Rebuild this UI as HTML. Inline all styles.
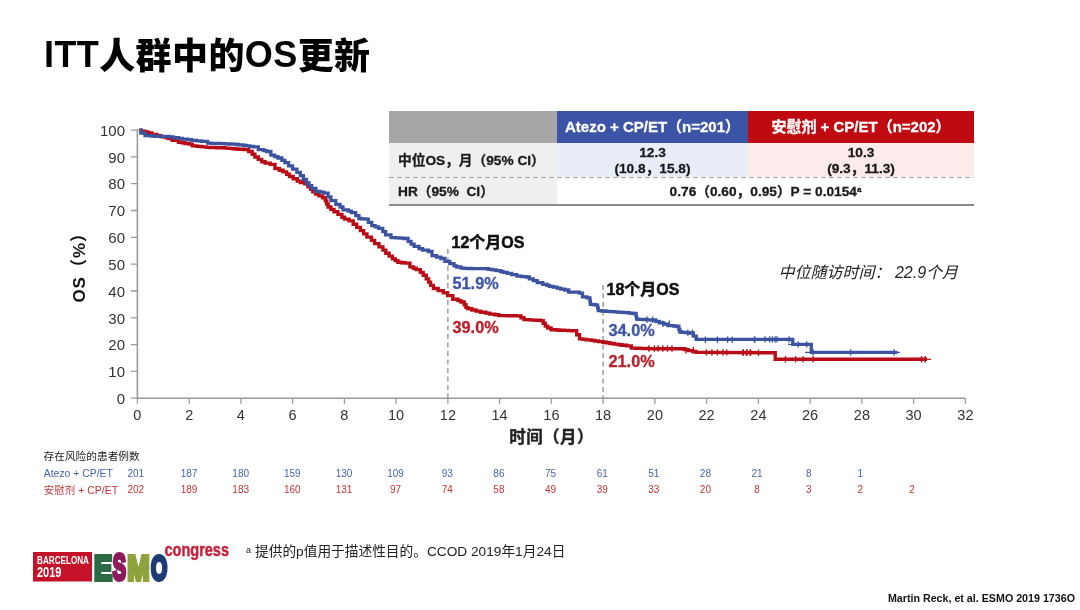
<!DOCTYPE html>
<html lang="zh">
<head>
<meta charset="utf-8">
<title>ITT人群中的OS更新</title>
<style>
html,body{margin:0;padding:0;background:#fff;}
body{width:1080px;height:610px;position:relative;overflow:hidden;font-family:"Liberation Sans","Noto Sans CJK SC",sans-serif;color:#111;}
.abs{position:absolute;white-space:nowrap;}
#title{left:44px;top:33px;font-size:36px;font-weight:bold;line-height:44px;color:#000;letter-spacing:0.4px;}
#title .k{font-weight:900;position:relative;top:1.7px;}
#chart{position:absolute;left:0;top:0;}
#tbl{position:absolute;left:389px;top:111px;width:585px;height:95px;font-weight:bold;font-size:13.7px;color:#1a1a1a;}
#tbl div{position:absolute;box-sizing:border-box;-webkit-text-stroke:0.3px currentColor;}
.hd{color:#fff;font-size:15px;text-align:center;line-height:32px;height:32px;top:0;}
.c{text-align:center;}
#foot{left:246px;top:543px;font-size:13.7px;line-height:18px;color:#222;}
#foot sup{font-size:9px;vertical-align:3px;margin-right:4px;line-height:0;}
#cite{right:5px;top:591.3px;font-size:10.7px;font-weight:bold;line-height:14px;color:#111;}
</style>
</head>
<body>
<div id="title" class="abs">ITT<span class="k">人群中的</span>OS<span class="k">更新</span></div>

<svg id="chart" width="1080" height="610" viewBox="0 0 1080 610" font-family="'Liberation Sans','Noto Sans CJK SC',sans-serif">
  <!-- axes -->
  <path d="M137.4 129.1V398.2H965.4" fill="none" stroke="#9a9a9a" stroke-width="1.6"/>
  <path d="M130.9 398.2H137.4M130.9 371.4H137.4M130.9 344.6H137.4M130.9 317.8H137.4M130.9 291.0H137.4M130.9 264.1H137.4M130.9 237.3H137.4M130.9 210.5H137.4M130.9 183.7H137.4M130.9 156.9H137.4M130.9 130.1H137.4M137.4 398.2V403.7M189.2 398.2V403.7M240.9 398.2V403.7M292.6 398.2V403.7M344.4 398.2V403.7M396.1 398.2V403.7M447.9 398.2V403.7M499.6 398.2V403.7M551.4 398.2V403.7M603.1 398.2V403.7M654.9 398.2V403.7M706.6 398.2V403.7M758.4 398.2V403.7M810.1 398.2V403.7M861.9 398.2V403.7M913.6 398.2V403.7M965.4 398.2V403.7" fill="none" stroke="#9a9a9a" stroke-width="1.3"/>
  <g font-size="15" fill="#333"><text x="125" y="403.9" text-anchor="end">0</text><text x="125" y="377.1" text-anchor="end">10</text><text x="125" y="350.3" text-anchor="end">20</text><text x="125" y="323.5" text-anchor="end">30</text><text x="125" y="296.7" text-anchor="end">40</text><text x="125" y="269.8" text-anchor="end">50</text><text x="125" y="243.0" text-anchor="end">60</text><text x="125" y="216.2" text-anchor="end">70</text><text x="125" y="189.4" text-anchor="end">80</text><text x="125" y="162.6" text-anchor="end">90</text><text x="125" y="135.8" text-anchor="end">100</text></g>
  <g font-size="14.5" fill="#333"><text x="137.4" y="420.2" text-anchor="middle">0</text><text x="189.2" y="420.2" text-anchor="middle">2</text><text x="240.9" y="420.2" text-anchor="middle">4</text><text x="292.6" y="420.2" text-anchor="middle">6</text><text x="344.4" y="420.2" text-anchor="middle">8</text><text x="396.1" y="420.2" text-anchor="middle">10</text><text x="447.9" y="420.2" text-anchor="middle">12</text><text x="499.6" y="420.2" text-anchor="middle">14</text><text x="551.4" y="420.2" text-anchor="middle">16</text><text x="603.1" y="420.2" text-anchor="middle">18</text><text x="654.9" y="420.2" text-anchor="middle">20</text><text x="706.6" y="420.2" text-anchor="middle">22</text><text x="758.4" y="420.2" text-anchor="middle">24</text><text x="810.1" y="420.2" text-anchor="middle">26</text><text x="861.9" y="420.2" text-anchor="middle">28</text><text x="913.6" y="420.2" text-anchor="middle">30</text><text x="965.4" y="420.2" text-anchor="middle">32</text></g>
  <!-- dashed reference lines -->
  <path d="M447.9 249V398.2M603.1 285V398.2" stroke="#7a7a7a" stroke-width="1.1" stroke-dasharray="5 3.5" fill="none"/>
  <!-- curves -->
  <path d="M139.3 130.2 H141.1 V131.1 H143.0 H144.8 V132.0 H146.7 H147.9 V133.0 H150.4 H151.9 V134.4 H155.0 H157.0 V135.7 H159.6 H161.1 V136.7 H163.3 H165.7 V137.6 H167.0 H168.4 V138.5 H170.7 H172.2 V140.4 H175.4 H178.5 V142.2 H180.0 H181.9 V142.8 H183.7 H185.0 V143.5 H187.4 H189.3 V144.1 H191.1 H192.3 V145.9 H194.8 H197.0 V146.4 H199.1 H202.1 V146.9 H203.5 H206.2 V147.4 H207.8 H209.9 V147.5 H211.5 H213.0 V147.6 H215.2 H216.8 V147.7 H218.9 H220.2 V147.8 H222.6 H224.8 V148.1 H226.3 H228.2 V148.4 H230.0 H232.3 V148.7 H233.7 H235.3 V149.0 H237.4 H238.8 V149.3 H241.1 H243.4 V149.6 H244.8 H248.7 V151.5 H250.4 H252.2 V154.3 H253.1 H254.9 V157.0 H255.9 H258.2 V159.4 H259.6 H261.8 V161.7 H263.3 H265.1 V163.1 H268.0 H270.3 V164.4 H272.6 H275.0 V168.5 H278.1 H279.3 V170.2 H281.9 H283.0 V171.9 H285.6 H286.7 V174.2 H288.3 H289.5 V176.5 H291.1 H293.2 V178.8 H294.8 H297.3 V181.1 H298.5 H300.3 V182.5 H302.2 H304.7 V183.9 H305.9 H307.9 V186.7 H308.7 H310.6 V189.4 H311.5 H312.8 V191.8 H314.4 H315.6 V194.1 H317.4 H318.9 V195.9 H321.1 H322.5 V197.8 H324.8 H325.3 V200.9 H326.0 H326.7 V204.0 H327.3 H328.1 V207.0 H328.5 H330.9 V209.4 H332.2 H334.0 V211.7 H335.9 H338.0 V214.4 H339.6 H341.9 V217.2 H343.3 H344.6 V219.1 H347.0 H349.1 V220.9 H350.7 H353.2 V224.2 H354.4 H356.7 V227.4 H358.1 H360.4 V230.6 H361.9 H363.7 V233.9 H365.6 H366.9 V237.1 H369.3 H371.5 V240.4 H373.0 H374.6 V243.6 H376.7 H379.0 V246.9 H380.4 H382.9 V250.1 H384.1 H385.8 V253.3 H387.8 H389.1 V256.1 H390.6 H392.4 V258.9 H393.3 H395.3 V260.6 H396.7 H397.9 V262.2 H400.0 H401.3 V262.7 H403.7 H405.0 V263.1 H407.4 H409.9 V266.9 H411.1 H413.4 V268.2 H414.8 H416.1 V269.6 H418.5 H420.3 V272.4 H421.3 H423.2 V275.2 H424.1 H426.2 V278.9 H427.8 H428.6 V282.1 H429.6 H430.6 V285.4 H431.5 H433.4 V288.5 H437.0 H438.2 V290.6 H440.7 H443.3 V292.8 H444.4 H447.6 V295.6 H450.0 H452.8 V299.3 H455.6 H458.0 V300.6 H459.3 H461.0 V302.0 H463.0 H464.2 V304.8 H464.8 H466.0 V307.6 H466.7 H468.1 V308.8 H470.4 H471.9 V310.0 H474.1 H476.0 V311.1 H478.7 H480.5 V312.2 H483.3 H485.8 V313.1 H488.0 H489.8 V314.1 H492.6 H494.8 V314.8 H497.2 H498.9 V315.6 H501.9 H504.6 V315.6 H506.0 H507.9 V315.7 H510.2 H512.2 V315.8 H514.4 H516.6 V315.9 H518.5 H521.0 V317.8 H522.2 H524.0 V319.6 H525.9 H528.7 V319.9 H530.1 H532.2 V320.1 H534.3 H536.4 V320.3 H538.4 H540.5 V320.6 H542.6 H543.2 V323.3 H544.4 H545.3 V326.1 H546.3 H547.7 V328.0 H550.0 H551.1 V329.8 H553.7 H556.2 V330.0 H557.8 H559.3 V330.2 H561.9 H563.8 V330.4 H565.9 H568.3 V330.6 H570.0 H572.1 V330.7 H574.1 H574.4 V330.7 H574.8 H576.7 V334.8 H578.5 H579.5 V338.9 H580.4 H583.0 V339.4 H584.7 H586.2 V339.9 H589.0 H591.3 V340.4 H593.3 H594.8 V341.0 H597.0 H598.6 V341.6 H600.7 H603.0 V342.2 H604.4 H606.3 V342.8 H608.1 H610.1 V343.5 H611.9 H614.1 V344.1 H615.6 H618.4 V344.7 H619.9 H621.9 V345.3 H624.2 H626.6 V345.9 H628.5 H631.3 V348.1 H634.1 H635.9 V348.3 H637.8 H639.9 V348.4 H641.5 H643.3 V348.5 H645.2 H647.1 V348.6 H648.9 H650.7 V348.7 H652.6 H672.6 V348.7 H682.2 H684.4 V349.6 H685.9 H688.3 V350.6 H689.6 H692.8 V351.5 H694.3 H696.1 V352.4 H698.9 L775.2 352.8 L775.2 359.3 L927.0 359.3" fill="none" stroke="#b80c16" stroke-width="3.4" stroke-linejoin="miter"/>
  <path d="M648.9 345.3V351.7M654.4 345.3V351.7M658.1 345.3V351.7M662.8 345.3V351.7M667.4 345.3V351.7M672.0 345.3V351.7M685.9 347.0V353.4M693.3 347.0V353.4M706.3 349.2V355.6M711.9 349.2V355.6M717.4 349.2V355.6M723.0 349.2V355.6M726.7 349.2V355.6M743.3 349.2V355.6M747.0 349.2V355.6M750.7 349.2V355.6M742.8 349.6V356.0M746.5 349.6V356.0M750.2 349.6V356.0M758.5 349.6V356.0M785.4 356.1V362.5M795.6 356.1V362.5M803.0 356.1V362.5M813.1 356.1V362.5M921.5 356.1V362.5M925.2 356.1V362.5" fill="none" stroke="#b80c16" stroke-width="1.3"/>
  <path d="M927 359.3H931" stroke="#b80c16" stroke-width="1.2"/>
  <path d="M139.3 130.2 H140.9 V133.0 H143.0 H145.0 V135.7 H148.5 H151.1 V136.0 H153.1 H154.7 V136.3 H157.8 H162.5 V136.3 H167.0 H169.1 V136.9 H171.7 H173.2 V137.6 H176.3 H178.6 V138.3 H180.9 H182.4 V139.1 H185.6 H187.7 V139.7 H190.2 H191.7 V140.4 H194.8 H196.4 V140.8 H199.4 H201.6 V141.3 H204.1 H207.6 V143.1 H209.6 H211.1 V143.3 H214.0 H215.6 V143.5 H218.3 H220.7 V143.7 H222.6 H225.1 V143.8 H226.3 H228.3 V144.0 H230.0 H231.7 V144.1 H233.7 H236.3 V144.5 H237.4 H238.6 V144.9 H241.1 H243.5 V145.4 H244.8 H246.4 V145.9 H248.5 H249.8 V146.4 H252.2 H253.5 V146.9 H255.9 H258.3 V149.6 H261.5 H263.8 V150.6 H265.2 H266.6 V151.5 H268.9 H270.9 V155.2 H272.6 H274.7 V156.6 H276.3 H278.0 V158.0 H280.0 H281.9 V160.3 H283.7 H284.9 V162.6 H287.4 H288.6 V165.8 H291.1 H292.5 V169.1 H294.8 H296.9 V172.3 H298.5 H300.3 V175.6 H302.2 H303.4 V179.3 H305.0 H306.5 V183.0 H307.8 H309.1 V185.7 H310.6 H311.7 V188.5 H313.3 H315.9 V191.3 H317.4 H320.1 V192.2 H322.0 H323.9 V193.1 H326.7 H328.1 V196.9 H329.4 H330.9 V200.6 H332.2 H335.8 V204.3 H337.8 H340.0 V207.0 H341.5 H343.0 V209.8 H345.2 H348.4 V211.2 H349.8 H351.4 V212.6 H354.4 H355.7 V215.6 H357.2 H358.9 V218.5 H360.0 H361.3 V218.8 H363.7 H365.5 V219.1 H367.4 H368.3 V222.3 H370.2 H371.8 V225.6 H373.0 H375.2 V226.9 H376.7 H378.6 V228.3 H380.4 H382.8 V231.6 H384.1 H385.6 V234.8 H387.8 H391.0 V237.6 H393.3 H395.7 V237.9 H397.7 H400.0 V238.2 H402.0 H404.1 V238.5 H406.3 H408.1 V241.3 H409.1 H411.0 V244.1 H411.9 H414.1 V246.4 H416.5 H419.1 V248.7 H421.1 H422.6 V250.1 H425.7 H428.4 V251.5 H430.4 H432.0 V255.7 H433.3 H436.6 V257.1 H438.0 H440.9 V258.5 H442.6 H444.9 V261.3 H448.1 H449.8 V263.6 H451.9 H454.0 V265.9 H455.6 H456.7 V267.0 H459.3 H461.1 V268.1 H463.0 H464.3 V268.3 H466.7 H468.0 V268.5 H470.4 H471.6 V268.7 H474.1 H481.9 V268.7 H487.0 H488.3 V269.3 H490.7 H492.2 V269.9 H494.4 H496.1 V270.6 H498.1 H500.6 V271.5 H501.9 H503.1 V272.4 H505.6 H507.3 V273.3 H509.3 H511.7 V274.7 H513.9 H516.9 V276.1 H518.5 H521.4 V276.6 H523.1 H526.1 V277.0 H527.8 H529.3 V278.9 H531.5 H533.2 V280.7 H535.2 H537.2 V282.6 H539.8 H542.8 V284.4 H544.4 H547.0 V285.4 H548.1 H549.5 V286.3 H551.9 H553.2 V287.2 H555.6 H557.0 V288.1 H559.3 H560.7 V289.1 H563.0 H564.8 V290.0 H566.7 H567.6 V290.0 H568.3 H568.7 V292.2 H569.3 H571.8 V292.2 H577.8 H579.4 V293.1 H581.3 H582.5 V296.9 H584.1 H587.0 V297.8 H589.6 H589.9 V301.0 H590.1 H590.4 V304.3 H590.6 H592.2 V304.7 H593.8 H595.6 V305.2 H597.0 H597.6 V308.0 H598.0 H598.3 V310.7 H598.9 H601.7 V311.0 H603.2 H605.9 V311.4 H607.5 H610.3 V311.7 H611.9 H614.1 V311.9 H615.6 H617.2 V312.1 H619.3 H621.0 V312.4 H623.0 H624.2 V312.6 H626.7 H629.2 V313.1 H631.3 H632.8 V313.5 H635.9 H636.1 V316.3 H636.4 H636.6 V319.1 H636.9 H638.5 V319.3 H641.2 H643.2 V319.5 H645.6 H647.1 V319.8 H650.0 H651.4 V320.0 H654.4 H655.8 V321.4 H658.1 H659.4 V322.8 H661.9 H663.9 V324.2 H666.5 H667.9 V325.6 H671.1 H673.5 V326.0 H674.8 H676.8 V326.5 H678.5 H678.9 V329.3 H679.4 H679.8 V332.0 H680.4 H682.0 V332.3 H684.1 H685.7 V332.7 H687.8 H689.1 V333.0 H691.5 H693.3 V336.2 H694.3 H696.2 V339.4 H697.0 L792.8 339.4 L792.8 344.4 L811.3 344.4 L811.3 352.4 L897.4 352.4" fill="none" stroke="#3c53a0" stroke-width="3.3" stroke-linejoin="miter"/>
  <path d="M647.0 316.4V322.8M652.6 316.4V322.8M662.8 320.5V326.9M669.3 320.5V326.9M687.8 329.4V335.8M692.4 329.4V335.8M705.4 336.6V343.0M717.4 336.6V343.0M727.6 336.6V343.0M732.2 336.6V343.0M754.4 336.6V343.0M754.8 336.2V342.6M765.0 336.2V342.6M769.6 336.2V342.6M772.4 336.2V342.6M775.2 336.2V342.6M777.0 336.2V342.6M789.1 336.2V342.6M798.3 341.2V347.6M806.7 341.2V347.6M813.1 349.2V355.6M850.6 349.2V355.6M894.1 349.2V355.6" fill="none" stroke="#3c53a0" stroke-width="1.3"/>
  <path d="M897 352.4H900M805 352.4H812M788 344.4H793" stroke="#3c53a0" stroke-width="1.2"/>
  <!-- axis titles -->
  <text transform="translate(85.2 302.6) rotate(-90)" text-anchor="start" font-size="17" letter-spacing="1" font-weight="bold" fill="#111">OS（%）</text>
  <text x="509.3" y="443.3" letter-spacing="0.4" font-size="16.5" font-weight="bold" fill="#222" stroke="#222" stroke-width="0.4">时间（月）</text>
  <!-- annotations -->
  <g font-weight="bold">
    <text x="451.5" y="247.7" font-size="16" fill="#111" stroke="#111" stroke-width="0.5">12个月OS</text>
    <text x="606.5" y="295.2" font-size="16" fill="#111" stroke="#111" stroke-width="0.5">18个月OS</text>
    <text x="452.5" y="288.6" font-size="16.3" fill="#3f57a6" stroke="#3c53a0" stroke-width="0.3">51.9%</text>
    <text x="452.5" y="333.3" font-size="16.3" fill="#b8202a" stroke="#b8202a" stroke-width="0.3">39.0%</text>
    <text x="608.5" y="335.8" font-size="16.3" fill="#3f57a6" stroke="#3c53a0" stroke-width="0.3">34.0%</text>
    <text x="608.5" y="367.3" font-size="16.3" fill="#b8202a" stroke="#b8202a" stroke-width="0.3">21.0%</text>
  </g>
  <text x="778.5" y="277.8" font-size="16" font-style="italic" fill="#222">中位随访时间： 22.9个月</text>
  <!-- number at risk -->
  <text x="43.5" y="459.5" font-size="10.7" fill="#222">存在风险的患者例数</text>
  <g font-size="10" fill="#4a62ad">
    <text x="43.8" y="477" font-size="10.4">Atezo + CP/ET</text><text x="135.8" y="476.7" text-anchor="middle">201</text><text x="189.0" y="476.7" text-anchor="middle">187</text><text x="240.7" y="476.7" text-anchor="middle">180</text><text x="292.3" y="476.7" text-anchor="middle">159</text><text x="344.0" y="476.7" text-anchor="middle">130</text><text x="395.6" y="476.7" text-anchor="middle">109</text><text x="447.2" y="476.7" text-anchor="middle">93</text><text x="498.9" y="476.7" text-anchor="middle">86</text><text x="550.5" y="476.7" text-anchor="middle">75</text><text x="602.2" y="476.7" text-anchor="middle">61</text><text x="653.8" y="476.7" text-anchor="middle">51</text><text x="705.4" y="476.7" text-anchor="middle">28</text><text x="757.1" y="476.7" text-anchor="middle">21</text><text x="808.7" y="476.7" text-anchor="middle">8</text><text x="860.4" y="476.7" text-anchor="middle">1</text>
  </g>
  <g font-size="10" fill="#c2353a">
    <text x="43.8" y="493.6" font-size="10.5">安慰剂 + CP/ET</text><text x="135.8" y="493.3" text-anchor="middle">202</text><text x="189.0" y="493.3" text-anchor="middle">189</text><text x="240.7" y="493.3" text-anchor="middle">183</text><text x="292.3" y="493.3" text-anchor="middle">160</text><text x="344.0" y="493.3" text-anchor="middle">131</text><text x="395.6" y="493.3" text-anchor="middle">97</text><text x="447.2" y="493.3" text-anchor="middle">74</text><text x="498.9" y="493.3" text-anchor="middle">58</text><text x="550.5" y="493.3" text-anchor="middle">49</text><text x="602.2" y="493.3" text-anchor="middle">39</text><text x="653.8" y="493.3" text-anchor="middle">33</text><text x="705.4" y="493.3" text-anchor="middle">20</text><text x="757.1" y="493.3" text-anchor="middle">8</text><text x="808.7" y="493.3" text-anchor="middle">3</text><text x="860.4" y="493.3" text-anchor="middle">2</text><text x="912.0" y="493.3" text-anchor="middle">2</text>
  </g>
</svg>

<div id="tbl">
  <div style="left:0;top:0;width:168px;height:32px;background:#a6a6a6;"></div>
  <div class="hd" style="left:168px;width:191px;background:#3b54a5;">Atezo + CP/ET（n=201）</div>
  <div class="hd" style="left:359px;width:226px;background:#c00a12;">安慰剂 + CP/ET（n=202）</div>
  <div style="left:0;top:32px;width:168px;height:34px;background:#efefef;line-height:35.6px;padding-left:9px;">中位OS，月（95% CI）</div>
  <div class="c" style="left:168px;top:32px;width:191px;height:34px;background:#e8edf8;line-height:16.6px;padding-top:1.5px;">12.3<br>(10.8，15.8)</div>
  <div class="c" style="left:359px;top:32px;width:226px;height:34px;background:#fdeaea;line-height:16.6px;padding-top:1.5px;">10.3<br>(9.3，11.3)</div>
  <div style="left:0;top:65.6px;width:585px;height:1.4px;background:repeating-linear-gradient(90deg,#a4a4a4 0 5px,transparent 5px 8px);z-index:2;"></div>
  <div style="left:0;top:67px;width:168px;height:27px;background:#efefef;line-height:27px;padding-left:9px;">HR（95%&nbsp; CI）</div>
  <div class="c" style="left:168px;top:67px;width:417px;height:27px;background:#fff;line-height:27px;">0.76（0.60，0.95）P = 0.0154<sup style="font-size:8px;line-height:0;vertical-align:4px;">a</sup></div>
  <div style="left:0;top:93px;width:585px;height:2px;background:#8c8c8c;"></div>
</div>

<!-- ESMO congress logo -->
<svg class="abs" style="left:0;top:535px;" width="250" height="60" viewBox="0 535 250 60" font-family="'Liberation Sans',sans-serif" font-weight="bold">
  <rect x="33" y="552" width="59" height="29.5" fill="#c4122b"/>
  <text x="37" y="563.6" font-size="10.3" fill="#fff" textLength="52" lengthAdjust="spacingAndGlyphs">BARCELONA</text>
  <text x="37" y="576.9" font-size="14" fill="#fff" textLength="24.5" lengthAdjust="spacingAndGlyphs">2019</text>
  <g font-size="36" stroke-width="4" stroke-linejoin="miter" text-anchor="middle">
    <text transform="translate(103.1 579.6) scale(0.76 1)" fill="#2c6a43" stroke="#2c6a43">E</text>
    <text transform="translate(119.4 579.6) scale(0.55 1)" fill="#8c1c5c" stroke="#8c1c5c">S</text>
    <text transform="translate(138.5 579.6) scale(0.745 1)" fill="#8ea33b" stroke="#8ea33b">M</text>
    <text transform="translate(159 579.6) scale(0.58 1)" fill="#1f3b73" stroke="#1f3b73">O</text>
  </g>
  <text x="164.5" y="556" font-size="18.5" fill="#c4223c" stroke="#c4223c" stroke-width="0.5" textLength="64.5" lengthAdjust="spacingAndGlyphs">congress</text>
</svg>

<div id="foot" class="abs"><sup>a</sup>提供的p值用于描述性目的。CCOD 2019年1月24日</div>
<div id="cite" class="abs">Martin Reck, et al. ESMO 2019 1736O</div>
</body>
</html>
